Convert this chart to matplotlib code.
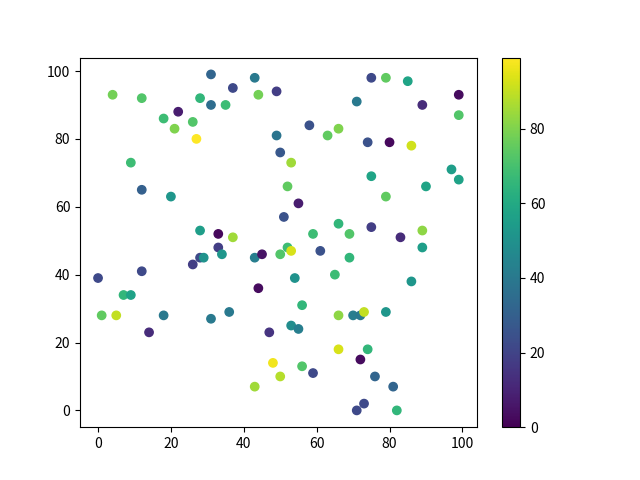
"""Scatter of random points coloured by value, with a colorbar."""

import matplotlib

matplotlib.use("Agg")
import matplotlib.pyplot as plt

plt.rcParams["font.family"] = ["Noto Sans CJK SC", "DejaVu Sans"]

x = [4, 12, 18, 22, 21, 26, 27, 28, 31, 31, 35, 37, 43, 44, 49, 9, 12, 20, 49, 50,
     53, 52, 55, 51, 75, 79, 85, 99, 71, 89, 99, 58, 66, 63, 74, 80, 86, 97, 75, 99,
     90, 79, 66, 59, 69, 75, 83, 89, 52, 89, 28, 33, 37, 33, 34, 28, 29, 26, 43, 45,
     50, 0, 12, 7, 9, 44, 1, 5, 18, 31, 36, 14, 47, 48, 50, 43, 53, 61, 69, 54,
     65, 86, 56, 66, 70, 72, 73, 79, 53, 55, 66, 74, 72, 56, 59, 76, 81, 73, 71, 82]
y = [93, 92, 86, 88, 83, 85, 80, 92, 99, 90, 90, 95, 98, 93, 94, 73, 65, 63, 81, 76,
     73, 66, 61, 57, 98, 98, 97, 93, 91, 90, 87, 84, 83, 81, 79, 79, 78, 71, 69, 68,
     66, 63, 55, 52, 52, 54, 51, 53, 48, 48, 53, 52, 51, 48, 46, 45, 45, 43, 45, 46,
     46, 39, 41, 34, 34, 36, 28, 28, 28, 27, 29, 23, 23, 14, 10, 7, 47, 47, 45, 39,
     40, 38, 31, 28, 28, 28, 29, 29, 25, 24, 18, 18, 15, 13, 11, 10, 7, 2, 0, 0]
values = [78, 72, 68, 8, 80, 72, 99, 65, 32, 35, 68, 22, 40, 78, 18, 68, 30, 52, 38, 27,
          85, 75, 8, 25, 22, 75, 58, 3, 40, 12, 72, 25, 80, 75, 25, 2, 92, 55, 58, 57,
          58, 75, 65, 68, 72, 18, 12, 82, 68, 55, 55, 2, 85, 18, 52, 22, 50, 18, 42, 5,
          72, 22, 22, 65, 57, 3, 75, 90, 40, 40, 40, 12, 15, 97, 88, 85, 93, 25, 65, 50,
          68, 52, 65, 82, 42, 40, 90, 52, 48, 42, 93, 65, 3, 72, 22, 32, 32, 22, 22, 65]

fig, ax = plt.subplots(figsize=(6.4, 4.8), dpi=100)
sc = ax.scatter(x, y, c=values, cmap="viridis", vmin=0, vmax=99)
fig.colorbar(sc, ax=ax)
fig.savefig("out.png")
